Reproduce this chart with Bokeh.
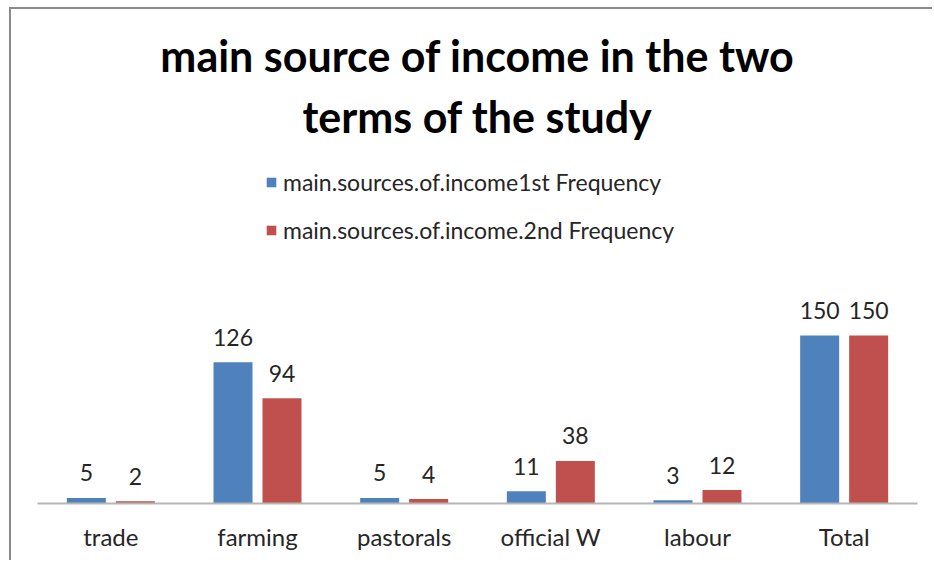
from bokeh.plotting import figure
from bokeh.models import FactorRange, ColumnDataSource, Title, Legend, LegendItem
from bokeh.transform import dodge
from bokeh.core.properties import value
from bokeh.embed import file_html
from bokeh.resources import INLINE

categories = ["trade", "farming", "pastorals", "official W", "labour", "Total"]
first_freq = [5, 126, 5, 11, 3, 150]
second_freq = [2, 94, 4, 38, 12, 150]
series_names = ["main.sources.of.income1st Frequency", "main.sources.of.income.2nd Frequency"]
title_lines = ["main source of income in the two", "terms of the study"]

BLUE = "#4F81BD"
RED = "#C0504D"
TXT = "#262626"
FONT = "Lato"

src = ColumnDataSource(dict(cat=categories, a=first_freq, b=second_freq,
                            la=[str(v) for v in first_freq], lb=[str(v) for v in second_freq]))

p = figure(x_range=FactorRange(*categories), y_range=(0, 315),
           width=923, height=553, output_backend="svg", toolbar_location=None,
           y_axis_location=None, min_border_left=26, min_border_right=17,
           min_border_bottom=59, min_border_top=141)
p.styles = {"margin-left": "9px", "margin-top": "7px",
            "border-top": "2px solid #8a8a8a", "border-left": "2px solid #8a8a8a"}
p.title.visible = False
p.outline_line_color = None
p.xgrid.grid_line_color = None
p.ygrid.grid_line_color = None
p.x_range.range_padding = 0

ra = p.vbar(x=dodge("cat", -0.167, range=p.x_range), top="a", width=0.266, source=src,
            fill_color=BLUE, line_color=None)
rb = p.vbar(x=dodge("cat", 0.167, range=p.x_range), top="b", width=0.266, source=src,
            fill_color=RED, line_color=None)

p.text(x=dodge("cat", -0.167, range=p.x_range), y="a", text="la", source=src,
       text_align="center", text_baseline="middle", y_offset=-25,
       text_font=value(FONT), text_font_size="23px", text_color=TXT)
p.text(x=dodge("cat", 0.167, range=p.x_range), y="b", text="lb", source=src,
       text_align="center", text_baseline="middle", y_offset=-25,
       text_font=value(FONT), text_font_size="23px", text_color=TXT)

ax = p.xaxis[0]
ax.axis_line_color = "#b5b5b5"
ax.axis_line_width = 2
ax.major_tick_line_color = None
ax.minor_tick_line_color = None
ax.major_label_text_font = FONT
ax.major_label_text_font_size = "24px"
ax.major_label_text_color = TXT
ax.major_label_standoff = 12

legend = Legend(items=[LegendItem(label=series_names[0], renderers=[ra]),
                       LegendItem(label=series_names[1], renderers=[rb])],
                location=(228, 259), orientation="vertical",
                glyph_width=12, glyph_height=12, label_height=20, spacing=20,
                padding=0, margin=0, label_standoff=6,
                label_text_font=FONT, label_text_font_size="23px", label_text_color=TXT,
                border_line_color=None, background_fill_alpha=0)
p.add_layout(legend, "center")

p.add_layout(Title(text=title_lines[1], align="center", text_font=FONT,
                   text_font_size="43px", text_font_style="bold", text_color="#000000",
                   standoff=17), "above")
p.add_layout(Title(text=title_lines[0], align="center", text_font=FONT,
                   text_font_size="43px", text_font_style="bold", text_color="#000000",
                   standoff=0), "above")

open("out.html", "w").write(file_html(p, INLINE))
